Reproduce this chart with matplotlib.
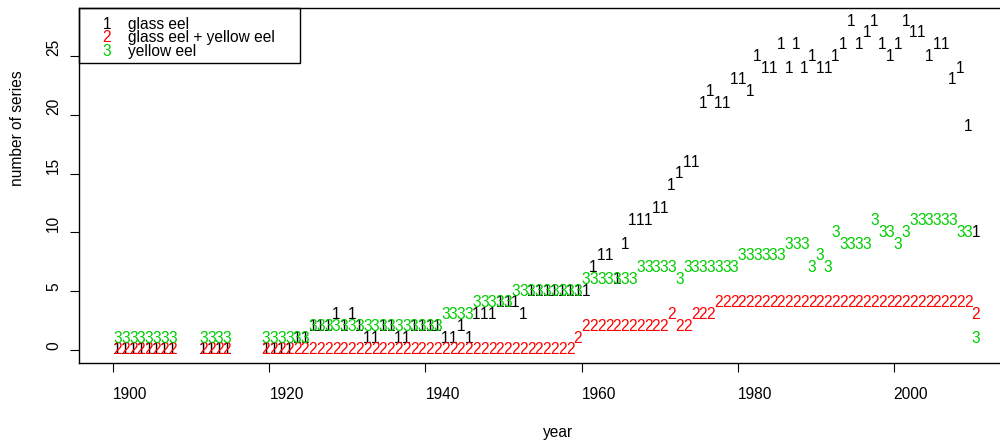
import numpy as np
import matplotlib
matplotlib.use("Agg")
import matplotlib.pyplot as plt
from matplotlib.patches import Rectangle

plt.rcParams['font.family'] = ['Liberation Sans', 'DejaVu Sans']

# years 1900..2010, nan = no data that year
years = list(range(1900, 2011))
nan = np.nan

glass_eel = [
    0, 0, 0, 0, 0, 0, 0, 0, nan, nan,            # 1900s
    nan, 0, 0, 0, 0, nan, nan, nan, nan, 0,      # 1910s
    0, 0, 0, 1, 1, 2, 2, 2, 3, 2,                # 1920s
    3, 2, 1, 1, 2, 2, 1, 1, 2, 2,                # 1930s
    2, 2, 1, 1, 2, 1, 3, 3, 3, 4,                # 1940s
    4, 4, 3, 5, 5, 5, 5, 5, 5, 5,                # 1950s
    5, 7, 8, 8, 6, 9, 11, 11, 11, 12,            # 1960s
    12, 14, 15, 16, 16, 21, 22, 21, 21, 23,      # 1970s
    23, 22, 25, 24, 24, 26, 24, 26, 24, 25,      # 1980s
    24, 24, 25, 26, 28, 26, 27, 28, 26, 25,      # 1990s
    26, 28, 27, 27, 25, 26, 26, 23, 24, 19, 10,  # 2000-2010
]
glass_yellow_eel = [
    0, 0, 0, 0, 0, 0, 0, 0, nan, nan,
    nan, 0, 0, 0, 0, nan, nan, nan, nan, 0,
    0, 0, 0, 0, 0, 0, 0, 0, 0, 0,
    0, 0, 0, 0, 0, 0, 0, 0, 0, 0,
    0, 0, 0, 0, 0, 0, 0, 0, 0, 0,
    0, 0, 0, 0, 0, 0, 0, 0, 0, 1,
    2, 2, 2, 2, 2, 2, 2, 2, 2, 2,
    2, 3, 2, 2, 3, 3, 3, 4, 4, 4,
    4, 4, 4, 4, 4, 4, 4, 4, 4, 4,
    4, 4, 4, 4, 4, 4, 4, 4, 4, 4,
    4, 4, 4, 4, 4, 4, 4, 4, 4, 4, 3,
]
yellow_eel = [
    1, 1, 1, 1, 1, 1, 1, 1, nan, nan,
    nan, 1, 1, 1, 1, nan, nan, nan, nan, 1,
    1, 1, 1, 1, 1, 2, 2, 2, 2, 2,
    2, 2, 2, 2, 2, 2, 2, 2, 2, 2,
    2, 2, 3, 3, 3, 3, 4, 4, 4, 4,
    4, 5, 5, 5, 5, 5, 5, 5, 5, 5,
    6, 6, 6, 6, 6, 6, 6, 7, 7, 7,
    7, 7, 6, 7, 7, 7, 7, 7, 7, 7,
    8, 8, 8, 8, 8, 8, 9, 9, 9, 7,
    8, 7, 10, 9, 9, 9, 9, 11, 10, 10,
    9, 10, 11, 11, 11, 11, 11, 11, 10, 10, 1,
]

series = [glass_eel, glass_yellow_eel, yellow_eel]
symbols = ['1', '2', '3']
labels = ['glass eel', 'glass eel + yellow eel', 'yellow eel']
colors = ['black', '#FF0000', '#00CD00']

fs = 11.2

fig = plt.figure(figsize=(10, 4.43), dpi=100)
# plot region in pixels: x 79..1006 (right edge falls off the picture), y 8..363
W, H = 927.0, 355.0
ax = fig.add_axes([0.079, 80 / 443, W / 1000, H / 443])

# the reference renders every text left-anchored at its point (R svg quirk)
for k, vals in enumerate(series):
    for yr, v in zip(years, vals):
        if np.isnan(v):
            continue
        ax.text(yr, v, symbols[k], color=colors[k], fontsize=fs,
                ha='left', va='center', zorder=3 + k)

ax.set_xlim(1895.6, 2014.4)
ax.set_ylim(-1.12, 29.12)
ax.set_xticks([1900, 1920, 1940, 1960, 1980, 2000])
ax.set_yticks([0, 5, 10, 15, 20, 25])
ax.tick_params(axis='both', direction='out', length=6.5, width=0.8,
               labelsize=fs, color='black')
ax.tick_params(axis='x', pad=11)
ax.tick_params(axis='y', pad=8.4)
plt.setp(ax.get_xticklabels(), ha='left')
plt.setp(ax.get_yticklabels(), rotation=90, ha='left', va='baseline',
         rotation_mode='anchor')
for s in ax.spines.values():
    s.set_linewidth(1.0)
    s.set_color('black')

ax.set_xlabel('year', fontsize=fs, ha='left', va='center')
ax.xaxis.set_label_coords(0.5, (363 - 432) / H)
ax.set_ylabel('number of series', fontsize=fs, ha='left', va='center',
              rotation_mode='anchor')
ax.yaxis.set_label_coords((17 - 79) / W, 0.5)

# legend box drawn like R's legend(): digits as symbols
ax.add_patch(Rectangle((0, 1 - 55 / H), (300 - 79) / W, 55 / H,
                       transform=ax.transAxes, fill=False,
                       edgecolor='black', linewidth=1.0, zorder=10,
                       clip_on=False))
for k, ypx in enumerate([24, 37.7, 51.7]):
    ty = (363 - ypx) / H
    ax.text((106.7 - 79) / W, ty, symbols[k], color=colors[k], fontsize=fs,
            ha='center', va='center', transform=ax.transAxes, zorder=11)
    ax.text((127.7 - 79) / W, ty, labels[k], color='black', fontsize=fs,
            ha='left', va='center', transform=ax.transAxes, zorder=11)

fig.savefig('out.png', dpi=100)
